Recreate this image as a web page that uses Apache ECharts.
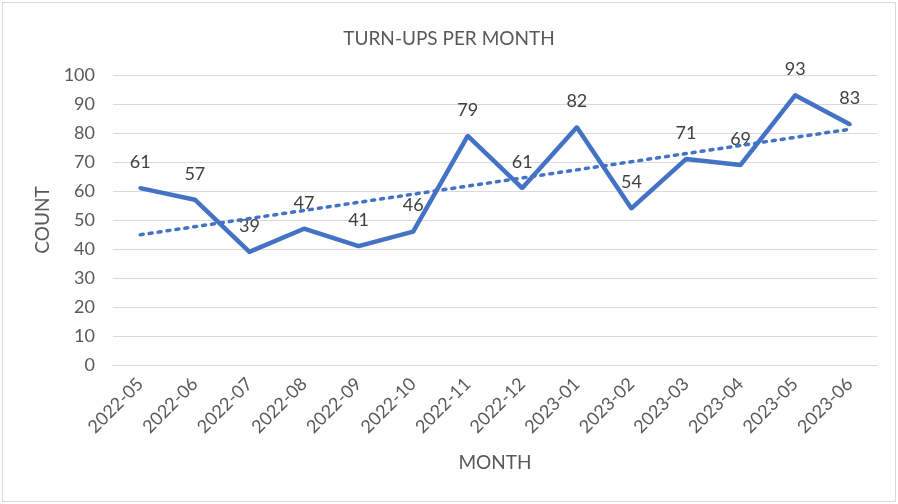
<!DOCTYPE html>
<html><head><meta charset="utf-8">
<script src="https://cdn.jsdelivr.net/npm/echarts@6/dist/echarts.min.js"></script>
<style>html,body{margin:0;padding:0;background:#fff}#c{width:898px;height:504px}</style>
</head><body><div id="c"></div>
<script>
var categories = ['2022-05','2022-06','2022-07','2022-08','2022-09','2022-10','2022-11','2022-12','2023-01','2023-02','2023-03','2023-04','2023-05','2023-06'];
var counts = [61,57,39,47,41,46,79,61,82,54,71,69,93,83];
var trendStart = 44.9, trendEnd = 81.3;
var yTicks = {min:0, max:100, interval:10};
var font = 'Lato, "Open Sans", sans-serif';
var chart = echarts.init(document.getElementById('c'));
chart.setOption({
  animation:false,
  title:{text:'TURN-UPS PER MONTH', left:'center', top:24, textStyle:{fontFamily:font, fontSize:19, fontWeight:'normal', color:'#595959'}},
  graphic:[{type:'rect', shape:{x:2.5,y:2.5,width:893,height:499}, style:{fill:'none', stroke:'#d9d9d9', lineWidth:1}, silent:true}],
  grid:{left:113, right:21, top:75, bottom:139},
  xAxis:{type:'category', data:categories, boundaryGap:true,
    name:'MONTH', nameLocation:'middle', nameGap:88,
    nameTextStyle:{fontFamily:font, fontSize:19, color:'#595959'},
    axisLine:{show:true, lineStyle:{color:'#d9d9d9', width:1}}, axisTick:{show:false},
    axisLabel:{rotate:45, fontFamily:font, fontSize:18, color:'#595959', margin:16, interval:0}},
  yAxis:{type:'value', min:yTicks.min, max:yTicks.max, interval:yTicks.interval,
    name:'COUNT', nameLocation:'middle', nameGap:60,
    nameTextStyle:{fontFamily:font, fontSize:19, color:'#595959'},
    axisLine:{show:false}, axisTick:{show:false},
    axisLabel:{fontFamily:font, fontSize:18, color:'#595959', margin:18},
    splitLine:{lineStyle:{color:'#d9d9d9', width:1}}},
  series:[{type:'line', data:counts, symbol:'circle', symbolSize:4, showSymbol:true,
    lineStyle:{color:'#4472C4', width:4.5}, itemStyle:{color:'#4472C4'},
    label:{show:true, position:'top', distance:15, fontFamily:font, fontSize:18, color:'#404040'},
    markLine:{silent:true, symbol:'none', label:{show:false},
      lineStyle:{color:'#4472C4', width:3.5, type:[3,6], cap:'round'},
      data:[[{coord:[categories[0], trendStart]},{coord:[categories[categories.length-1], trendEnd]}]]}
  }]
});
</script></body></html>
